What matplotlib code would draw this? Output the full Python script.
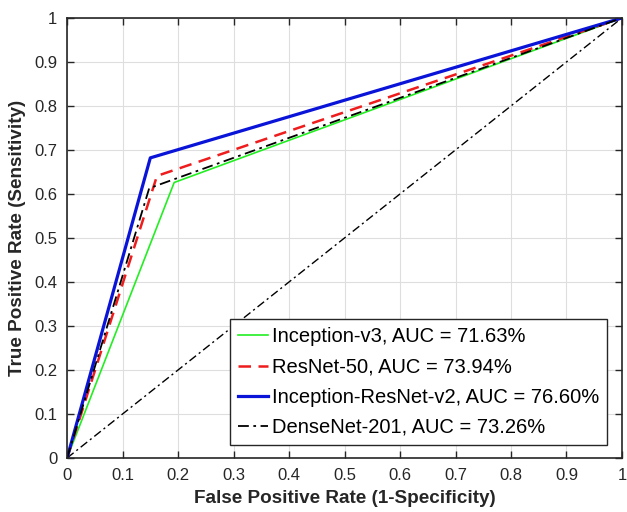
import matplotlib
matplotlib.use("Agg")
import matplotlib.pyplot as plt
import numpy as np

models = ["Inception-v3", "ResNet-50", "Inception-ResNet-v2", "DenseNet-201"]
auc = ["71.63%", "73.94%", "76.60%", "73.26%"]
fpr = [[0, 0.193, 1], [0, 0.162, 1], [0, 0.150, 1], [0, 0.148, 1]]
tpr = [[0, 0.626, 1], [0, 0.641, 1], [0, 0.682, 1], [0, 0.613, 1]]
colors = ["#22ee22", "#ee1c1c", "#0a14d8", "black"]
styles = ["-", (0, (5, 3)), "-", (0, (6, 2.5, 1.5, 2.5))]
widths = [1.2, 1.8, 2.3, 1.3]
chance = [0, 1]

plt.rcParams["font.family"] = "Liberation Sans"
fig = plt.figure(figsize=(6.27, 5.12), dpi=100)
ax = fig.add_axes([0.107, 0.1055, 0.885, 0.8595])

# chance line
ax.plot(chance, chance, color="black", linestyle=(0, (6, 2.5, 1.5, 2.5)), linewidth=1.0)
for i in range(len(models)):
    ax.plot(fpr[i], tpr[i], color=colors[i], linestyle=styles[i], linewidth=widths[i],
            label=f"{models[i]}, AUC = {auc[i]}")

ax.set_xlim(0, 1)
ax.set_ylim(0, 1)
ticks = np.round(np.arange(0, 1.01, 0.1), 1)
ticklabels = ["0"] + [f"{t:g}" for t in ticks[1:-1]] + ["1"]
ax.set_xticks(ticks)
ax.set_yticks(ticks)
ax.set_xticklabels(ticklabels)
ax.set_yticklabels(ticklabels)
ax.grid(True, color="#dedede", linewidth=0.8)
ax.set_axisbelow(True)
ax.tick_params(direction="in", top=True, right=True, length=5, width=1,
               labelsize=12, colors="#262626", pad=7)
for s in ax.spines.values():
    s.set_color("#262626")
    s.set_linewidth(1.2)

ax.set_xlabel("False Positive Rate (1-Specificity)", fontsize=13.6, fontweight="bold", color="#262626", labelpad=5)
ax.set_ylabel("True Positive Rate (Sensitivity)", fontsize=13.6, fontweight="bold", color="#262626", labelpad=6)

leg = ax.legend(loc="lower right", bbox_to_anchor=(0.973, 0.03), fontsize=14.5, fancybox=False,
                framealpha=1, edgecolor="#262626", handlelength=1.45, handletextpad=0.2,
                borderpad=0.4, labelspacing=0.55, borderaxespad=0)
leg.get_frame().set_linewidth(1.0)

fig.savefig("out.png", dpi=100)
